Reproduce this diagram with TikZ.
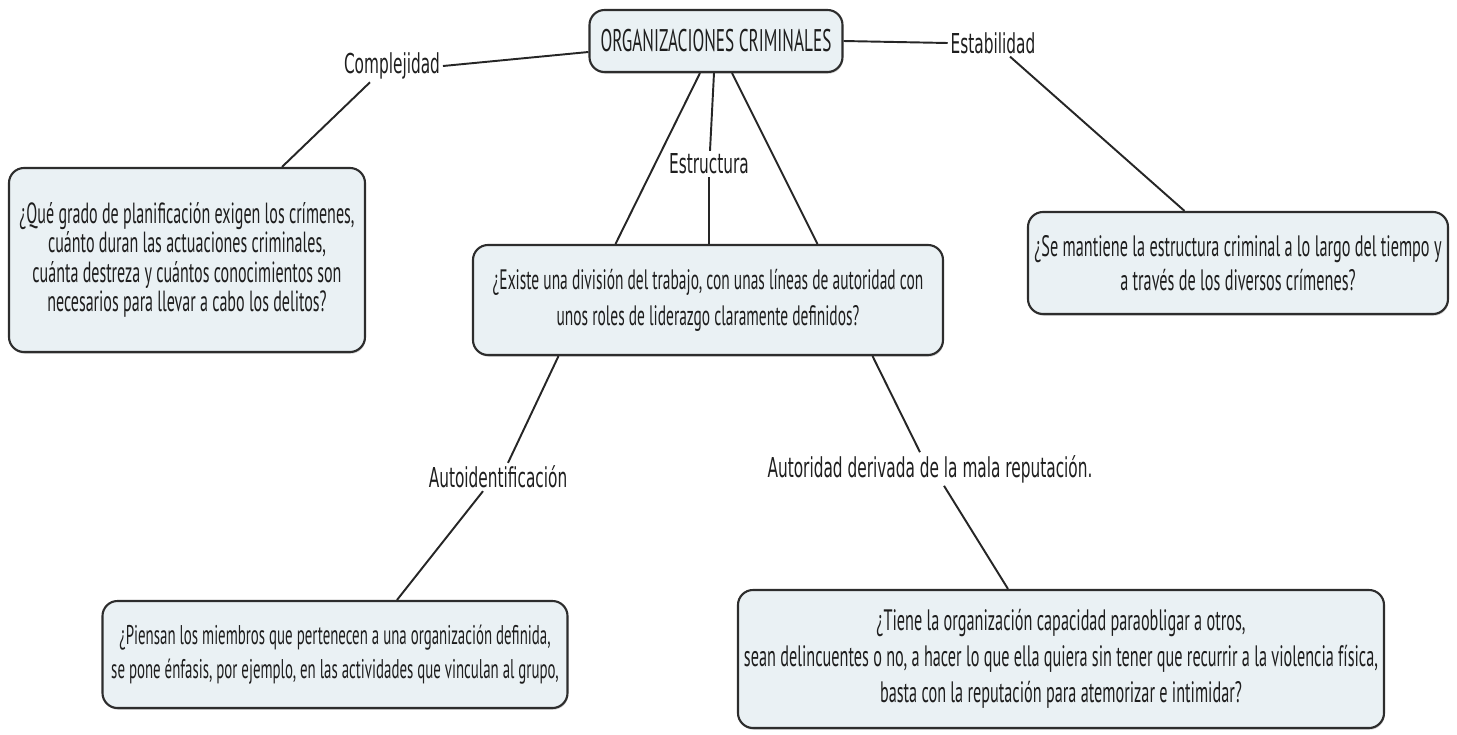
\documentclass[tikz,border=0pt]{standalone}
\usepackage{fontspec}
\usetikzlibrary{shadows}
\newfontfamily\boxfont[FakeStretch=0.55]{PT Sans}
\newfontfamily\linkfont[FakeStretch=0.56]{DejaVu Sans}
\definecolor{conceptfill}{RGB}{234,241,244}
\definecolor{conceptline}{RGB}{45,45,45}
\definecolor{inktext}{RGB}{30,30,30}

\begin{document}
\begin{tikzpicture}[
	concept/.style={draw=conceptline, line width=1.2pt, fill=conceptfill, rounded corners=0.3cm, align=center, text=inktext, inner sep=0pt, drop shadow={shadow xshift=0.4pt, shadow yshift=-1pt, opacity=0.35}},
	linkphrase/.style={inner sep=1.5pt, text=inktext, font=\linkfont\fontsize{15.6}{18}\selectfont},
	link/.style={line width=1.1pt, black!85}
]
	\useasboundingbox (0,0) rectangle (29.14,-14.68);

	\node[concept, minimum width=5.06cm, minimum height=1.24cm, font=\boxfont\fontsize{17.8}{20}\selectfont] (org) at (14.32,-0.82) {ORGANIZACIONES CRIMINALES};

	\node[concept, minimum width=7.12cm, minimum height=3.68cm, font=\boxfont\fontsize{16.6}{16.7}\selectfont] (planif) at (3.74,-5.20) {¿Qué grado de planificación exigen los crímenes,\\ cuánto duran las actuaciones criminales,\\ cuánta destreza y cuántos conocimientos son\\ necesarios para llevar a cabo los delitos?};
	\node[concept, minimum width=9.40cm, minimum height=2.20cm, font=\boxfont\fontsize{16}{20.5}\selectfont] (division) at (14.16,-6.00) {¿Existe una división del trabajo, con unas líneas de autoridad con\\ unos roles de liderazgo claramente definidos?};
	\node[concept, minimum width=8.40cm, minimum height=2.04cm, font=\boxfont\fontsize{16.8}{19}\selectfont] (tiempo) at (24.76,-5.26) {¿Se mantiene la estructura criminal a lo largo del tiempo y\\ a través de los diversos crímenes?};
	\node[concept, minimum width=9.30cm, minimum height=2.14cm, font=\boxfont\fontsize{15.4}{19}\selectfont] (miembros) at (6.70,-13.09) {¿Piensan los miembros que pertenecen a una organización definida,\\ se pone énfasis, por ejemplo, en las actividades que vinculan al grupo,};
	\node[concept, minimum width=12.92cm, minimum height=2.76cm, font=\boxfont\fontsize{16.8}{20.5}\selectfont] (reputa) at (21.22,-13.18) {¿Tiene la organización capacidad paraobligar a otros,\\ sean delincuentes o no, a hacer lo que ella quiera sin tener que recurrir a la violencia física,\\ basta con la reputación para atemorizar e intimidar?};

	\node[linkphrase] (complej) at (7.84,-1.32) {Complejidad};
	\node[linkphrase] (estab) at (19.86,-0.86) {Estabilidad};
	\node[linkphrase] (estruc) at (14.18,-3.28) {Estructura};
	\node[linkphrase] (autoid) at (9.96,-9.54) {Autoidentificación};
	\node[linkphrase] (autorid) at (18.6,-9.38) {Autoridad derivada de la mala reputación.};

	\draw[link] (complej.east) -- ([yshift=-0.22cm]org.west);
	\draw[link] ([xshift=-0.44cm]complej.south) -- ([xshift=1.9cm]planif.north);

	\draw[link] (org.east) -- (estab.west);
	\draw[link] ([xshift=0.34cm]estab.south) -- ([xshift=-1.07cm]tiempo.north);

	\draw[link] ([xshift=-0.32cm]org.south) -- ([xshift=-1.85cm]division.north);
	\draw[link] ([xshift=-0.04cm]org.south) -- ([xshift=0.02cm]estruc.north);
	\draw[link] (estruc.south) -- ([xshift=0.02cm]division.north);
	\draw[link] ([xshift=0.32cm]org.south) -- ([xshift=2.19cm]division.north);

	\draw[link] ([xshift=-2.99cm]division.south) -- ([xshift=0.2cm]autoid.north);
	\draw[link] ([xshift=-0.3cm]autoid.south) -- ([xshift=1.24cm]miembros.north);

	\draw[link] ([xshift=3.29cm]division.south) -- ([xshift=-0.2cm]autorid.north);
	\draw[link] ([xshift=0.28cm]autorid.south) -- ([xshift=-1.06cm]reputa.north);
\end{tikzpicture}
\end{document}
